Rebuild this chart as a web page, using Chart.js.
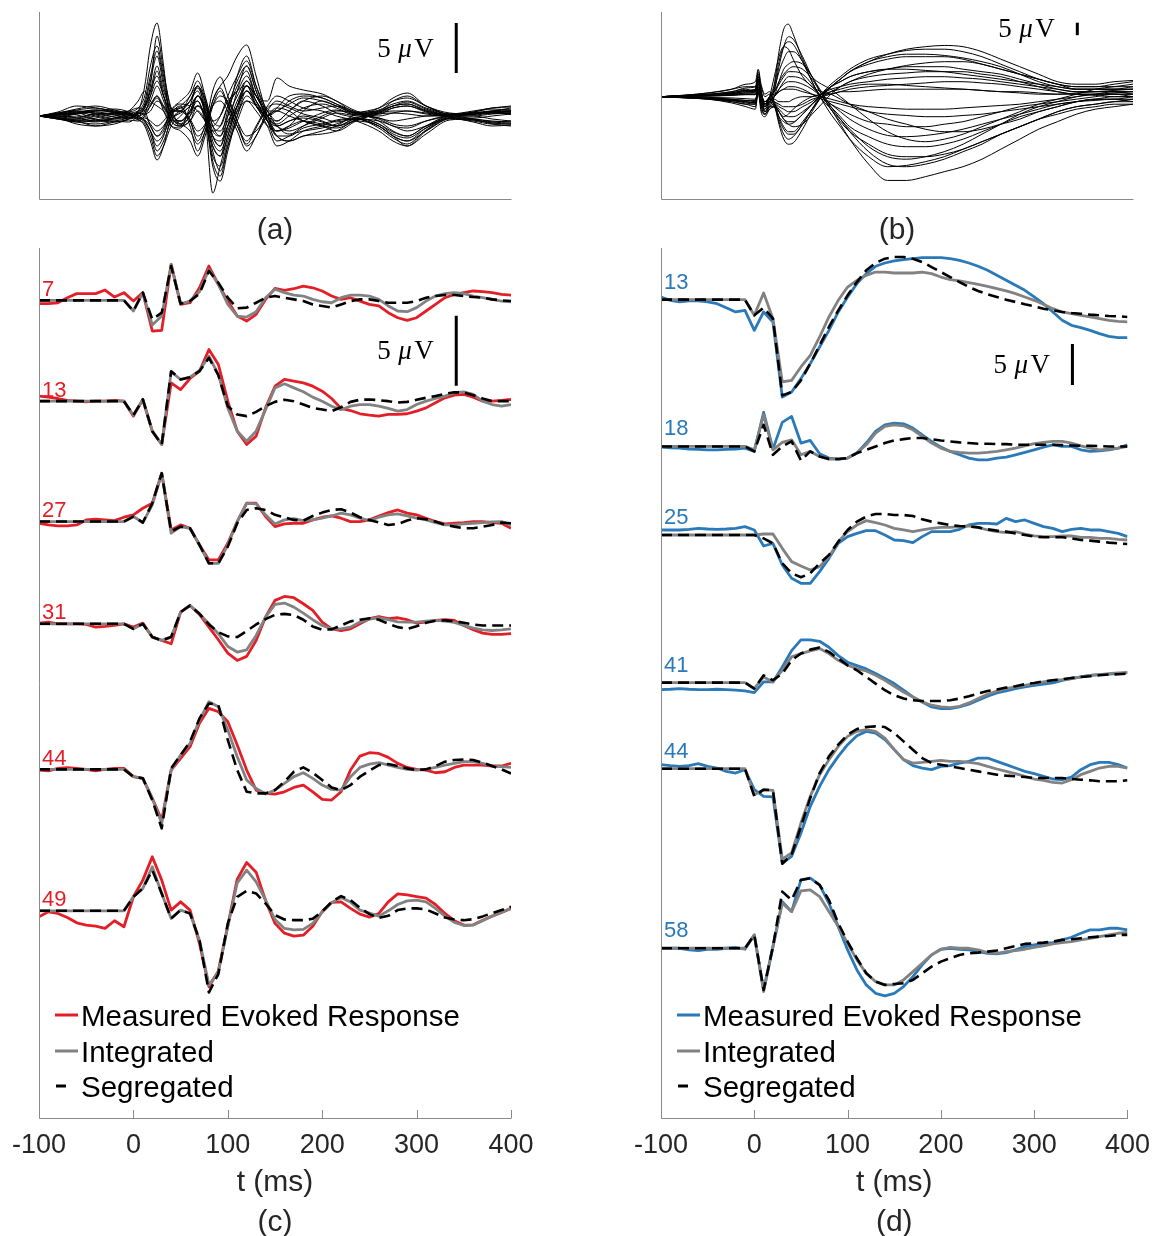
<!DOCTYPE html>
<html>
<head>
<meta charset="utf-8">
<script src="https://cdn.jsdelivr.net/npm/chart.js@4.4.1/dist/chart.umd.min.js"></script>
<style>
  html, body { margin: 0; padding: 0; background: #fff; overflow: hidden; }
  #fig { position: relative; width: 1161px; height: 1236px; }
  canvas { position: absolute; }
</style>
</head>
<body>
<div id="fig">
  <canvas id="panelA" width="560" height="250" style="left:0;top:0"></canvas>
  <canvas id="panelB" width="539" height="250" style="left:622px;top:0"></canvas>
  <canvas id="panelC" width="560" height="996" style="left:0;top:240px"></canvas>
  <canvas id="panelD" width="539" height="996" style="left:622px;top:240px"></canvas>
</div>
<script>
// ---- butterfly plot (a): sample times in ms, one array per channel (uV)
const tA = [-100,-80,-60,-40,-20,-5,5,12,18,25,32,40,50,60,68,76,84,92,100,110,120,130,142,152,165,180,200,215,236,260,275,290,310,335,360,380,400];
const a1 = [0,0.2,0.5,0.3,0.2,0.1,0.5,3,7,9.3,5,-1,-1.2,1,3,1.5,-2,-3,0,4,6,3,0,-1.5,-1,0.5,1.5,1,0.2,0.8,1.8,2.3,1,0.2,0.3,0.5,0.4];
const a2 = [0,-0.3,-0.6,-0.5,-0.2,0,0.3,1,2.5,4,2,0.5,0.5,2,3,0,-7.7,-5,-2,1,3,2,0.5,-0.5,0.5,1.5,1,0.3,-0.2,-1,-2,-2.5,-1.5,-0.2,0,-0.3,-0.5];
const a3 = [0,0.3,0.6,0.8,0.4,0.2,-0.3,-1,-2.5,-4.4,-3,0,1,-1,-3.5,-1.5,1.5,3,4,6,7.1,4,0,-2,-2.5,-2,-1.5,-1,0.2,0.8,1.5,1.8,1,0.2,0.5,0.8,1];
const a4 = [0,-0.2,-0.8,-1,-0.6,-0.3,0.5,1.5,4,6.5,3.5,0,-0.8,0.5,2,0.5,-3,-4,-1,2.5,5,2.5,-0.5,-2.5,-2,-1,0,0.5,0.3,-0.5,-1.5,-2,-1,0,-0.3,-0.8,-1];
const a5 = [0,0.4,1,0.8,0.5,0.2,0,-0.5,-1.5,-3,-2,0.5,1.5,2.5,4.3,2,-1,-2,0.5,3,4.5,2,1.5,3.8,3,2.6,2.2,1.5,0.4,0.5,1.5,2,1,0.3,0.2,0.5,0.6];
const a6 = [0,-0.3,-0.5,-1,-0.8,-0.4,-0.5,0,1,2,0.5,-1,-1.5,-2.5,-4,-2,1,2.5,1,-1,-2.5,-1,1,2,1.5,0.8,0.5,0,-0.5,-1.5,-2.5,-3,-1.5,-0.3,-0.5,-0.8,-0.8];
const a7 = [0,0.1,0.4,0.6,0.3,0,0.2,0.8,2.5,5,2.5,0.8,0.5,1.5,2.5,0,-4.5,-6,-3,0,2,1,-1,-3,-2.5,-1.5,-1,-0.5,-0.3,-0.5,-1,-1.5,-1,-0.2,-0.2,0,0.2];
const a8 = [0,-0.1,-0.2,0.2,0.3,0.5,0.8,0.5,-1,-2,-1.5,0.5,0.5,-0.5,-2,-1,2.5,3.9,2,-0.5,-3,-2,0.5,1.5,1,0.5,0.8,1,0.2,-0.3,-1,-1.2,-0.5,0.1,0.3,0.5,0.8];
const a9 = [0,0.2,0.3,-0.3,-0.5,-0.6,0,0.5,1.5,3,1.5,-0.5,-1,-0.5,0.5,-0.5,-3,-4,-2,1,3.5,2,0,-1,-0.5,0,-0.5,-1,-0.2,0.3,0.5,0.5,0.3,0,0.3,0.4,0.2];
const a10 = [0,-0.2,-0.4,-0.6,-0.2,0.2,0.3,0,-0.8,-1.5,-1,0.3,0.8,1.5,3,1.5,-1,-1.5,0,2,3.5,1.5,-0.5,-2,-2.5,-2,-1.8,-1.5,-0.5,-1,-2,-2.5,-1.2,-0.2,-0.6,-1,-0.9];
const a11 = [0,0.3,0.7,1,0.6,0.3,0.5,1,3,8,4.5,0.5,-0.5,0.5,2,0.5,-2,-3,-1,1.5,3,1.5,0,-0.5,0.5,1.5,2,1.5,0.5,0,0.3,0.5,0.2,0,0,0.2,0.3];
const a12 = [0,-0.2,-0.5,-0.4,0,0.2,0,-0.5,-1.5,-3.5,-2.5,-0.5,0.5,-0.5,-2.5,-1,1,2,1.5,-0.5,-2,-1.5,0,0.5,0,-0.5,-1,-1.2,-0.4,0.5,1,1.2,0.5,0.1,0.4,0.8,0.9];
const a13 = [0,0.1,0.2,0.4,0.2,0.5,1.5,2.5,1.5,1,0.5,-0.5,-0.5,0.5,1,0,-2,-2.5,-1,0.5,1.5,0.5,-1,-1.5,-1,-0.5,-0.8,-1,-0.3,-1,-2,-3,-1.8,-0.4,-0.3,-0.6,-0.7];
const a14 = [0,-0.1,0.2,0.5,0.7,0.4,-0.2,0.2,2,4.5,2,-0.5,-1,0,1,0,-5,-6.5,-3.5,0,2.5,1.5,-0.5,-1.5,-1.2,-0.5,0.3,0.6,0.1,0.6,1.2,1.5,0.8,0.2,0.4,0.7,0.6];
const a15 = [0,0.2,0.4,0,-0.3,-0.2,0.3,0.2,0.5,1.5,1,0,0.3,1,2,1,-1.5,-2,-0.5,1,2.5,1,0,0.5,1.2,1.8,1.5,1,0.3,0.2,0.8,1,0.5,0,0.2,0.4,0.5];
const a16 = [0,-0.2,-0.3,0,0.3,0.1,-0.4,-0.8,-2,-4,-3,-1,0,1,1.5,0,-1,0,2,4,5.5,3,0.5,-1,-1.8,-1.5,-1.2,-0.8,-0.2,-0.8,-1.8,-2.2,-1.2,-0.2,-0.4,-0.7,-0.8];
const a17 = [0,0.1,-0.2,-0.5,-0.3,0,0.4,1.2,3.5,6,3,0.2,-0.5,0.3,1.5,-0.5,-4,-5,-2.5,0.5,3,2,0,-1,-1.5,-1,-0.2,0.3,0,-0.2,-0.8,-1,-0.5,0,0.2,0.3,0.3];
const a18 = [0,-0.1,0.3,0.6,0.4,0.2,-0.2,-0.6,-1.5,-2.5,-1.8,0,1,2,3.5,1.8,-0.5,-1,1,3.5,5,2.5,0,0.8,2,2.2,1.8,1.2,0.3,0.4,1,1.4,0.7,0.1,0.1,0.3,0.4];
const a19 = [0,0.2,0.1,-0.4,-0.6,-0.3,0.2,0.6,1.2,2,1,-0.3,-0.8,-1.5,-2.8,-1.5,1.5,2.8,1.2,-1,-2.8,-1.2,0.8,1.2,0.8,0.2,-0.2,-0.6,-0.3,-1.2,-2.2,-2.8,-1.4,-0.2,-0.4,-0.6,-0.5];
const a20 = [0,-0.2,-0.4,-0.2,0.2,0.4,0.8,2,5,7,4,0.8,-0.8,0,2,0.8,-2.5,-3.5,-1.5,1,2.5,1.2,-0.3,-0.8,0,0.8,1.2,0.8,0.1,0.4,1,1.2,0.6,0.1,0.2,0.3,0.2];
const a21 = [0,0.3,0.5,0.2,-0.1,-0.2,-0.1,-0.4,-1,-2,-1.2,0.5,1.2,1,0.5,-0.5,-1.5,-1,1,2.5,3,1,-0.5,-1,-0.5,-0.2,-0.6,-1,-0.4,0.2,0.3,0.2,0,0,0.2,0.4,0.5];
const a22 = [0,-0.3,-0.6,-0.8,-0.5,-0.2,0.2,0.8,2,3.5,2,0,-1,-0.5,1,0,-3.5,-5.5,-3,-0.5,1.5,1,-0.5,-2,-2,-1.2,-0.8,-0.4,-0.2,-0.8,-1.6,-2,-1,-0.1,-0.3,-0.5,-0.6];
const a23 = [0,0.1,0.3,0.5,0.5,0.3,0,0.3,1,1.8,0.8,-0.2,0.5,1.5,2.8,1.2,-0.5,0,1.5,2.5,4,2,0.5,0.5,1.5,2,1.8,1.2,0.4,-0.2,-0.5,-0.3,0,0.1,0.2,0.4,0.5];
const a24 = [0,0,-0.1,0.2,0.1,-0.2,-0.3,-0.2,-0.5,-1,-0.5,0.5,0.8,-0.3,-1.5,-0.8,1,1.5,0.5,-1.5,-3.5,-2,0,0.8,0.5,-0.5,-1,-1.5,-0.5,0.3,0.8,1,0.4,0,0.2,0.3,0.2];

// ---- butterfly plot (b)
const tB = [-100,-75,-50,-25,-10,0,3,6,10,15,20,25,30,35,40,50,60,70,80,90,100,120,140,160,180,200,220,240,260,280,300,320,340,360,380,400];
const b1 = [0,0.6,1.5,3,4,4,10,3,-4,0,5,18,27,29,25,15,8,5,3,0,-3,-9,-14,-17,-18,-17,-15,-12,-9,-6,-3,-1,1,3,4,5];
const b2 = [0,-0.4,-1,-2,-3,-3,6,-1,-6,-3,2,12,20,24,23,16,8,2,-4,-9,-13,-20,-24,-25,-24,-22,-19,-15,-11,-7,-4,-2,0,1,1,0];
const b3 = [0,0.5,1,2,3,2,9,2,-6,-2,3,10,15,18,18,14,6,-1,-5,-11,-17,-27,-33.5,-33.5,-32,-30,-28,-25,-21,-17,-13,-10,-7,-5,-4,-3];
const b4 = [0,-0.3,-0.8,-1.5,-2,-2.5,4,-3,-7,-4,0,6,11,13,14,13,8,1,-5,-9,-14,-22,-27,-28,-27,-25,-22,-19,-15,-12,-9,-6,-4,-3,-2,-1];
const b5 = [0,0.3,0.6,1.2,2,2,7,1,-3,0,2,5,8,10,10,9,5,0,-4,-8,-12,-16,-19,-20,-20,-19,-17,-14,-11,-8,-6,-4,-2,-1,0,0];
const b6 = [0,-0.2,-0.5,-1,-1.5,-1.5,3,-2,-4,-2,0,3,5,6,6,5,3,0,-3,-5,-7,-10,-11,-12,-12,-11,-10,-8,-6,-4,-3,-2,-1,0,1,1];
const b7 = [0,0.2,0.4,0.8,1,1,4,0,-2,0,1,2,3,3,3,2,1,0,-1,-2,-3,-4,-4.5,-5,-5,-5,-4.5,-4,-3.5,-3,-2,-1,0,1,2,2];
const b8 = [0,-0.1,-0.3,-0.5,-0.8,-1,2,-1,-2,-1,-1,-2,-2,-2,-1,0,0,1,1,2,2,2.5,3,3,3,3,3,2.5,2,2,1.5,1,1,0.5,0,0];
const b9 = [0,0.4,0.8,1.5,2.5,3,8,2,-2,-1,-2,-4,-5,-6,-6,-4,-2,1,3,4,5,6,7,7.5,8,8,7.5,7,6,5,4,3,2,2,2,2];
const b10 = [0,-0.3,-0.7,-1.5,-2.5,-3,1,-4,-7,-5,-4,-6,-9,-10,-10,-7,-3,1,4,6,8,10,11,12,12,12,11,10,9,7,5,3,2,2,2,1];
const b11 = [0,0.5,1,2,3.5,4,6,4,0,1,-2,-8,-12,-14,-14,-10,-5,0,4,7,10,13,15,16,16,16,15,13,11,9,7,5,4,4,5,6];
const b12 = [0,-0.5,-1,-2.5,-4,-5,2,-6,-8,-5,-4,-10,-15,-17,-16,-11,-5,1,5,8,11,15,17,18.5,19,19,18,16,13,10,7,5,3,3,3,4];
const b13 = [0,0.6,1.5,3,5,6,11,5,1,2,-3,-11,-17,-19,-18.5,-13,-6,0,4,7,10,14,17,19,20,20.5,20,18,15,12,9,6,5,5,6,6.5];
const b14 = [0,0.2,0.5,1,1.5,2,5,1,-3,-1,-3,-6,-9,-11,-12,-11,-7,-3,1,4,6,9,11,12.5,13.5,14,14,13,11,9,7,5,4,4,4,4];
const b15 = [0,-0.4,-0.8,-1.5,-2,-2.5,6,-2,-5,0,8,16,20,19,15,8,4,2,1,-1,-3,-6,-9,-11,-13,-14,-14,-13,-11,-9,-6,-4,-2,-1,-1,-2];
const b16 = [0,0.1,0.3,0.6,1,1,3,-1,-4,-2,-3,-6,-8,-7,-5,-2,0,1,2,3,4,5,5,4.5,4,3.5,3,2.5,2,1.5,1,1,1.5,2,2.5,3];
const b17 = [0,0.3,0.7,1.5,2.5,2.5,7,1,-4,-1,4,14,20,22,21,14,6,-1,-7,-12,-17,-24,-28,-27.5,-26,-24,-21,-18,-15,-12,-9,-6,-4,-3,-2,-2];
const b18 = [0,-0.2,-0.5,-1,-1.5,-2,3,-2,-5,-2,0,3,6,8,8,7,4,0,-3,-6,-9,-13,-15.5,-16,-15.5,-14.5,-13,-11,-9,-7,-5,-3,-2,-1,-1,0];
const b19 = [0,0.2,0.4,0.8,1.5,1.5,5,1,-3,-1,-2,-3,-4,-4,-4,-3,-1,0,1,2,3,4,4.5,5,5.5,6,6,5.5,5,4,3,2,1,1,1.5,2];
const b20 = [0,-0.3,-0.6,-1.2,-2,-2.5,2,-3,-6,-4,-3,-5,-7,-8,-8,-6,-3,0,2,4,6,8,9,9.5,10,10,10,9,8,6,4,2,1,1,1,1];
const b21 = [0,0.4,0.8,1.6,2.5,3,8,2,-3,0,2,6,9,11,12,11,7,1,-5,-10,-14,-19,-23,-24,-24,-23,-21,-18,-15,-12,-9,-7,-5,-4,-3,-3];
const b22 = [0,-0.4,-0.9,-2,-3,-4,3,-5,-7,-4,-4,-9,-13,-15,-15,-11,-5,0,4,7,10,14,16,17,17,16.5,15.5,14,12,9,6,4,3,3,3,3];
const b23 = [0,0.1,0.2,0.5,0.8,0.8,3,0,-2,-1,0,2,3,4,4,3,1,-1,-2,-3,-4,-6,-7,-7.5,-8,-8,-7.5,-7,-6,-5,-4,-3,-2,-1.5,-1,-1];
const b24 = [0,0.3,0.6,1.2,2,2.5,7,2,-3,-2,-4,-8,-10,-11,-10.5,-7,-3,1,4,6,8,10,11,11,10.5,10,9,8,7,6,5,4,3,3,3,3];

// ---- single channels (c) and (d): 10 ms samples, uV relative to each channel's baseline
const tC = [-100,-90,-80,-70,-60,-50,-40,-30,-20,-10,0,10,20,30,40,50,60,70,80,90,100,110,120,130,140,150,160,170,180,190,200,210,220,230,240,250,260,270,280,290,300,310,320,330,340,350,360,370,380,390,400];

const c7Meas = [-0.24,-0.24,-0.17,0.19,0.48,0.48,0.48,0.74,0.24,0.55,-0.05,0.55,-2.19,-2.14,2.57,-0.29,-0.17,0.9,2.45,1.14,-0.05,-1.12,-1.48,-1.0,0.07,0.86,0.71,0.83,1.02,0.9,0.67,0.31,0.07,0.19,-0.05,-0.29,-0.4,-0.88,-1.24,-1.43,-1.24,-0.76,-0.29,0.19,0.43,0.55,0.67,0.62,0.55,0.43,0.38];
const c7Int = [0,0,0,0,0,0,0,0,0,0,-0.76,0.55,-1.76,-1.12,2.57,-0.24,-0.05,0.62,2.21,1.14,-0.29,-1.12,-1.19,-0.81,0.19,0.79,0.55,0.38,0.31,0.07,-0.1,-0.17,0.19,0.38,0.38,0.31,0.07,-0.4,-0.76,-0.81,-0.52,-0.05,0.31,0.48,0.55,0.48,0.31,0.19,0.07,-0.05,-0.1];
const c7Seg = [0,0,0,0,0,0,0,0,0,0,-0.76,0.55,-1.36,-0.88,2.45,-0.24,-0.05,0.48,2.1,1.26,0.19,-0.57,-0.52,-0.17,0.19,0.31,0.19,0.07,-0.05,-0.29,-0.4,-0.52,-0.29,-0.05,0.07,0.07,-0.05,-0.17,-0.17,-0.17,-0.05,0.19,0.31,0.38,0.38,0.31,0.24,0.19,0.07,0,-0.05];

const c13Meas = [0.36,0.29,0.19,0.05,0,-0.05,0,0,0.05,0,-1.07,0.12,-2.14,-3.1,1.31,0.83,1.62,2.14,3.69,2.62,0,-2.14,-3.1,-2.5,-0.48,1.07,1.55,1.43,1.31,1.07,0.71,0.19,-0.52,-0.67,-0.9,-1.0,-1.07,-0.95,-0.95,-0.9,-0.71,-0.48,-0.12,0.24,0.43,0.48,0.29,0,0,0.05,0.12];
const c13Int = [0,0,0,0,0,0,0,0,0,0,-1.0,0.12,-2.14,-3.1,2.1,1.55,1.71,2.19,3.21,1.9,-0.48,-2.14,-2.86,-2.14,-0.6,0.95,1.24,0.95,0.67,0.29,0,-0.36,-0.6,-0.36,-0.24,-0.24,-0.36,-0.52,-0.71,-0.6,-0.24,0,0.19,0.36,0.6,0.67,0.48,0,-0.24,-0.36,-0.24];
const c13Seg = [0,0,0,0,0,0,0,0,0,0,-1.0,0.12,-2.14,-3.1,2.14,1.55,1.71,2.14,3.1,1.86,-0.36,-0.95,-1.07,-0.76,-0.36,-0.05,0.1,0,-0.24,-0.48,-0.6,-0.71,-0.43,-0.05,0.1,0.12,0.07,0,-0.1,-0.05,0.1,0.24,0.36,0.52,0.64,0.62,0.43,0.19,0,0,0];

const c27Meas = [-0.12,-0.24,-0.31,-0.31,-0.24,0.12,0.17,0.12,0.07,0.31,0.48,0.95,1.31,3.45,-0.6,-0.24,-0.48,-1.67,-2.74,-2.74,-1.55,0,1.31,1.31,0.36,-0.36,-0.17,-0.12,-0.12,0.12,0.31,0.4,0.24,0,0,0.12,0.4,0.64,0.83,0.6,0.48,0.24,0,-0.17,-0.12,-0.07,0,0,-0.07,-0.12,-0.48];
const c27Int = [0,0,0,0,0,0,0,0,0,0,0.36,-0.07,1.19,3.45,-0.83,-0.36,-0.48,-1.67,-2.98,-2.98,-1.67,0,1.31,1.26,0.48,-0.17,0.12,0.21,0.07,0.12,0.24,0.4,0.6,0.48,0.24,0.07,0.31,0.48,0.55,0.4,0.24,0.12,-0.07,-0.24,-0.24,-0.17,-0.12,-0.07,-0.02,0,-0.24];
const c27Seg = [0,0,0,0,0,0,0,0,0,0,0.36,-0.07,1.31,3.45,-0.71,-0.36,-0.48,-1.67,-2.98,-2.98,-1.79,-0.12,0.83,0.95,0.83,0.48,0.31,0.12,0.07,0.4,0.64,0.83,0.88,0.64,0.31,0.12,-0.07,-0.24,-0.17,0.07,0.24,0.17,0,-0.24,-0.36,-0.48,-0.48,-0.36,-0.24,-0.07,-0.12];

const c31Meas = [0.05,0.12,0,0,0,-0.05,-0.24,-0.19,-0.12,0,-0.24,0.05,-0.95,-1.19,-1.43,0.83,1.31,0.67,-0.24,-1.14,-2.1,-2.62,-2.33,-1.19,0.48,1.67,1.95,1.86,1.43,0.95,0.12,-0.36,-0.48,-0.36,0,0.36,0.52,0.36,0.43,0.29,0.05,0.12,0.24,0.29,0.24,-0.12,-0.43,-0.67,-0.76,-0.76,-0.71];
const c31Int = [0,0,0,0,0,0,0,0,0,0,-0.36,0,-0.95,-1.19,-0.95,0.83,1.31,0.71,0,-0.71,-1.62,-2.02,-1.86,-0.83,0.48,1.38,1.48,1.19,0.76,0.29,-0.12,-0.36,-0.36,-0.24,0.12,0.33,0.43,0.29,0.14,0.12,0.12,0.19,0.24,0.19,0.1,-0.12,-0.31,-0.43,-0.48,-0.43,-0.36];
const c31Seg = [0,0,0,0,0,0,0,0,0,0,-0.36,0,-0.95,-1.19,-0.95,0.83,1.31,0.71,-0.05,-0.6,-0.9,-0.95,-0.52,-0.05,0.33,0.64,0.71,0.62,0.29,-0.19,-0.43,-0.4,-0.12,0.17,0.29,0.4,0.29,0,-0.24,-0.36,-0.17,0.07,0.21,0.24,0.19,0.07,-0.05,-0.12,-0.12,-0.12,-0.12];

const c44Meas = [-0.05,-0.1,0.07,0.12,0.07,0,-0.1,0,0.07,0.07,-0.52,-0.64,-2.07,-3.62,-0.05,0.79,1.62,3.29,4.36,4.12,3.4,1.74,-0.05,-1.48,-1.71,-1.76,-1.6,-1.29,-1.12,-1.6,-2.14,-2.19,-1.6,-0.05,0.95,1.19,1.14,0.86,0.43,0.14,0,-0.05,-0.24,-0.17,0.14,0.31,0.31,0.31,0.24,0.24,0.43];
const c44Int = [0,0,0,0,0,0,0,0,0,0,-0.52,-0.64,-2.07,-3.86,-0.05,1.02,1.86,3.52,4.83,4.48,2.81,0.9,-0.76,-1.36,-1.76,-1.48,-1.0,-0.52,-0.24,-0.64,-1.12,-1.43,-1.48,-0.52,0.14,0.38,0.48,0.31,0.14,0,-0.05,0,0.14,0.31,0.43,0.55,0.55,0.43,0.24,0.19,0.14];
const c44Seg = [0,0,0,0,0,0,0,0,0,0,-0.52,-0.64,-2.19,-4.21,0.07,1.02,1.98,3.64,4.71,4.6,2.1,-0.05,-1.6,-1.71,-1.71,-1.48,-0.88,-0.17,0.14,-0.24,-0.76,-1.29,-1.48,-1.12,-0.52,-0.1,0.31,0.38,0.24,0.07,-0.05,0,0.24,0.55,0.67,0.71,0.67,0.48,0.24,0,-0.29];

const c49Meas = [-0.43,-0.07,-0.19,-0.48,-0.86,-1.02,-1.1,-1.26,-0.71,-1.14,1.0,2.19,3.86,2.19,0.05,0.64,0.05,-2.33,-5.43,-4.29,-1.05,2.26,3.45,2.76,0.74,-0.9,-1.6,-1.81,-1.74,-1.1,-0.05,0.6,0.64,0.17,-0.24,-0.45,-0.19,0.64,1.21,1.14,1.02,0.9,0.45,-0.19,-0.71,-1.02,-1.0,-0.67,-0.38,-0.12,0.17];
const c49Int = [0,0,0,0,0,0,0,0,0,0,1.0,1.6,3.14,1.24,-0.55,0.05,-0.19,-2.1,-5.31,-4.36,-1.14,2.0,2.9,2.07,0.76,-0.62,-1.26,-1.36,-1.33,-0.9,-0.1,0.57,0.95,0.62,0.05,-0.17,-0.38,0,0.45,0.71,0.76,0.64,0.17,-0.38,-0.83,-1.05,-1.02,-0.71,-0.38,-0.1,0.17];
const c49Seg = [0,0,0,0,0,0,0,0,0,0,1.0,1.6,2.9,1.24,-0.55,0.05,-0.19,-2.1,-5.83,-4.52,-0.9,1.0,1.43,1.24,0.52,-0.31,-0.62,-0.67,-0.67,-0.57,-0.05,0.64,1.05,0.76,0.21,-0.24,-0.5,-0.36,0.05,0.17,0.17,0.1,-0.19,-0.48,-0.62,-0.67,-0.6,-0.4,-0.17,0.05,0.29];

const d13Meas = [0.33,-0.08,-0.28,-0.16,-0.16,-0.28,-0.49,-0.98,-1.5,-1.3,-3.74,-1.5,-2.72,-11.87,-11.26,-9.63,-7.8,-5.77,-3.74,-1.5,0.33,1.95,3.17,4.07,4.47,4.72,4.88,5.0,5.12,5.12,5.12,5.0,4.8,4.47,4.07,3.58,2.97,2.36,1.75,1.14,0.33,-0.49,-1.5,-2.52,-3.13,-3.41,-3.74,-4.15,-4.47,-4.63,-4.63];
const d13Int = [0,0,0,0,0,0,0,0,0,0,-1.91,0.81,-2.32,-10.04,-9.84,-8.21,-6.79,-4.55,-2.11,-0.08,1.54,2.36,2.97,3.37,3.37,3.25,3.25,3.25,3.37,3.17,2.76,2.44,2.28,2.07,1.87,1.63,1.34,1.06,0.73,0.33,-0.08,-0.57,-1.1,-1.5,-1.71,-1.91,-2.11,-2.32,-2.52,-2.64,-2.72];
const d13Seg = [0,0,0,0,0,0,0,0,0,0,-1.91,-0.98,-2.32,-11.67,-11.26,-9.84,-7.8,-5.57,-3.33,-1.3,0.53,2.15,3.58,4.47,5.0,5.2,5.2,5.0,4.59,3.98,3.37,2.76,2.15,1.54,1.06,0.65,0.33,0,-0.28,-0.57,-0.81,-1.1,-1.3,-1.5,-1.63,-1.71,-1.83,-1.91,-1.99,-2.03,-2.11];

const d18Meas = [-0.08,-0.16,-0.2,-0.33,-0.37,-0.41,-0.41,-0.37,-0.33,-0.2,-0.61,4.15,-0.33,2.93,3.66,0.41,0.73,-0.89,-1.42,-1.54,-1.42,-0.81,0.41,1.83,2.64,2.85,2.76,2.24,1.42,0.61,-0.08,-0.61,-1.02,-1.42,-1.63,-1.63,-1.42,-1.3,-1.02,-0.73,-0.41,-0.08,0.2,0,0,-0.41,-0.61,-0.53,-0.41,-0.2,0.2];
const d18Int = [0,0,0,0,0,0,0,0,0,0,-0.41,3.86,-0.41,0.49,0.81,-1.02,-0.61,-1.22,-1.54,-1.54,-1.42,-0.81,0.2,1.63,2.44,2.64,2.52,2.03,1.22,0.41,-0.2,-0.61,-0.73,-0.81,-0.81,-0.73,-0.61,-0.41,-0.2,0.08,0.33,0.49,0.61,0.61,0.41,0.08,-0.2,-0.41,-0.33,-0.2,0];
const d18Seg = [0,0,0,0,0,0,0,0,0,0,-0.61,2.64,-1.02,0,0.61,-1.71,-0.61,-1.22,-1.54,-1.54,-1.42,-0.81,-0.41,0,0.41,0.73,0.89,1.02,1.02,0.89,0.73,0.61,0.49,0.41,0.33,0.33,0.28,0.28,0.2,0.2,0.2,0.2,0.2,0.16,0.12,0.08,0.08,0.04,0,0,0];

const d25Meas = [0.61,0.61,0.61,0.69,0.81,0.73,0.69,0.73,0.81,1.02,0.61,-1.34,-1.02,-3.66,-5.28,-5.89,-5.89,-4.47,-2.85,-1.02,-0.2,0.2,0.53,0.53,0,-0.61,-0.69,-0.93,-0.2,0.41,0.41,0.41,0.69,1.22,1.42,1.42,1.34,2.03,1.63,1.83,1.42,1.02,0.81,0.41,0.69,0.81,0.61,0.61,0.41,0.2,-0.2];
const d25Int = [0,0,0,0,0,0,0,0,0,0,0,0.12,0.12,-1.63,-3.25,-3.78,-4.27,-3.86,-2.64,-0.81,0.41,1.22,1.75,1.5,1.22,0.81,0.61,0.41,0.61,0.81,0.93,0.93,1.02,1.1,0.93,0.61,0.41,0.28,0.41,0.12,-0.12,-0.2,-0.2,-0.12,-0.12,-0.28,-0.28,-0.41,-0.41,-0.53,-0.61];
const d25Seg = [0,0,0,0,0,0,0,0,0,0,0,-0.41,-1.02,-3.46,-4.67,-5.16,-4.67,-3.46,-2.44,-0.81,0.61,1.63,2.24,2.56,2.56,2.44,2.44,2.32,1.91,1.63,1.42,1.22,1.1,1.02,0.93,0.69,0.53,0.41,0.2,0,-0.2,-0.28,-0.28,-0.28,-0.41,-0.61,-0.69,-0.81,-0.93,-1.02,-1.1];

const d41Meas = [-0.85,-0.81,-0.73,-0.81,-0.85,-0.85,-0.81,-0.85,-0.93,-1.02,-1.22,0.08,0.08,1.91,3.9,5.2,5.2,5.04,4.31,3.29,2.48,2.07,1.67,1.1,0.49,-0.12,-0.93,-1.75,-2.36,-2.97,-3.17,-3.17,-2.97,-2.64,-2.15,-1.67,-1.26,-1.02,-0.73,-0.53,-0.33,-0.2,-0.04,0.28,0.49,0.69,0.89,0.98,1.02,1.1,1.22];
const d41Int = [0,0,0,0,0,0,0,0,0,0,-0.73,0.69,0.08,1.5,3.13,3.54,3.86,4.15,3.54,2.72,2.11,1.71,1.42,0.89,0.28,-0.45,-1.14,-1.75,-2.36,-2.76,-2.97,-3.05,-2.89,-2.48,-1.95,-1.42,-1.02,-0.73,-0.53,-0.33,-0.12,0.08,0.28,0.37,0.49,0.69,0.89,0.98,1.1,1.18,1.22];
const d41Seg = [0,0,0,0,0,0,0,0,0,0,-0.73,0.89,0.28,1.1,2.72,3.54,4.02,4.27,3.74,2.93,2.11,1.5,0.69,-0.12,-0.93,-1.54,-1.95,-2.15,-2.24,-2.24,-2.24,-2.15,-1.95,-1.67,-1.34,-1.02,-0.85,-0.61,-0.45,-0.2,-0.04,0.16,0.28,0.41,0.57,0.69,0.77,0.89,0.98,1.02,1.1];

const d44Meas = [0.49,0.37,0.28,0.37,0.61,0.28,0.08,-0.33,-0.53,-0.12,-2.56,-3.37,-3.45,-11.5,-10.69,-7.85,-4.59,-2.15,-0.12,1.5,2.93,4.02,4.55,4.35,3.54,2.32,1.1,0.37,0.08,-0.12,0.28,0.37,0.69,0.89,1.3,1.3,0.89,0.49,0.08,-0.33,-0.61,-0.93,-1.26,-1.34,-1.02,-0.12,0.49,0.77,0.77,0.49,0.08];
const d44Int = [0,0,0,0,0,0,0,0,0,0,-3.17,-2.56,-2.64,-11.02,-10.28,-6.63,-3.37,-0.73,1.1,2.72,3.94,4.55,4.76,4.55,3.74,2.32,1.1,0.69,0.77,0.89,1.02,0.89,0.89,0.77,0.61,0.28,-0.04,-0.33,-0.61,-0.93,-1.26,-1.42,-1.67,-1.75,-1.34,-0.73,-0.33,0.08,0.28,0.28,0.08];
const d44Seg = [0,0,0,0,0,0,0,0,0,0,-3.37,-2.56,-2.64,-11.59,-10.49,-7.03,-3.58,-0.53,1.5,2.93,4.15,4.84,5.08,5.16,5.08,4.35,3.33,2.32,1.3,0.69,0.49,0.28,0.08,-0.12,-0.33,-0.53,-0.73,-0.85,-0.93,-1.02,-1.14,-1.14,-1.14,-1.14,-1.26,-1.34,-1.42,-1.54,-1.54,-1.54,-1.42];

const d58Meas = [0,0,0,-0.2,-0.28,-0.12,-0.12,0,0.12,-0.12,1.63,-5.08,0.2,5.69,4.47,8.33,8.54,7.72,5.49,2.64,-0.2,-2.64,-4.47,-5.49,-5.81,-5.49,-4.67,-3.46,-2.03,-0.81,-0.12,0,-0.12,-0.2,-0.41,-0.61,-0.69,-0.53,-0.2,0.2,0.41,0.61,0.69,1.02,1.34,1.83,2.24,2.24,2.44,2.44,2.24];
const d58Int = [0,0,0,0,0,0,0,0,0,0,1.63,-5.28,0.2,5.49,4.47,6.99,7.11,6.3,4.47,2.64,0.61,-1.42,-3.05,-4.07,-4.47,-4.47,-3.86,-2.85,-1.83,-0.81,-0.12,0.12,0,0,-0.2,-0.53,-0.61,-0.41,-0.28,-0.12,0.12,0.28,0.53,0.69,0.81,1.02,1.22,1.42,1.63,1.83,1.95];
const d58Seg = [0,0,0,0,0,0,0,0,0,0,1.63,-5.08,0.2,6.91,5.89,8.33,8.54,7.72,5.89,3.05,0.81,-1.22,-3.05,-4.07,-4.47,-4.35,-4.27,-3.86,-3.05,-2.24,-1.63,-1.22,-0.81,-0.61,-0.53,-0.41,-0.28,0,0.28,0.53,0.61,0.69,0.81,1.02,1.1,1.22,1.34,1.42,1.5,1.63,1.63];

const channelsC = ['7', '13', '27', '31', '44', '49'];
const channelsD = ['13', '18', '25', '41', '44', '58'];
const legendLabels = ['Measured Evoked Response', 'Integrated', 'Segregated'];
const xTicks = [-100, 0, 100, 200, 300, 400];

// ---- layout: vertical offsets of the stacked channels (uV)
const baseC = [58.4, 51.2, 42.6, 35.3, 24.9, 14.8];
const baseD = [99.8, 81.9, 71.1, 53.1, 42.6, 20.7];

const RED = '#e41e26';
const BLUE = '#2a79b8';
const GREY = '#828282';
const SANS = '"Liberation Sans", Arial, sans-serif';
const SERIF = '"Liberation Serif", "Times New Roman", serif';

Chart.defaults.font.family = SANS;

function pts(t, v, off) {
  return t.map((x, i) => ({ x: x, y: v[i] + (off || 0) }));
}

// axis lines, scale bar caption, channel names, legend and panel letter
const panelDecor = {
  id: 'panelDecor',
  afterDatasetsDraw(chart, args, o) {
    const ctx = chart.ctx, a = chart.chartArea;
    const xs = chart.scales.x, ys = chart.scales.y;
    ctx.save();
    ctx.strokeStyle = '#8a8a8a';
    ctx.lineWidth = 1;
    ctx.beginPath();
    ctx.moveTo(a.left + 0.5, a.top);
    ctx.lineTo(a.left + 0.5, a.bottom + 0.5);
    ctx.lineTo(a.right + 0.5, a.bottom + 0.5);
    (o.ticks || []).forEach(v => {
      const px = Math.round(xs.getPixelForValue(v)) + 0.5;
      ctx.moveTo(px, a.bottom);
      ctx.lineTo(px, a.bottom - 8);
    });
    ctx.stroke();

    // "5 uV" next to the bar
    const bx = xs.getPixelForValue(o.bar.t);
    const by = ys.getPixelForValue((o.bar.from + o.bar.to) / 2);
    ctx.fillStyle = '#000';
    ctx.textAlign = 'left';
    ctx.textBaseline = 'alphabetic';
    ctx.font = '27px ' + SERIF;
    ctx.fillText('5', bx - 79, by + 8.5);
    ctx.fillText('V', bx - 42, by + 8.5);
    ctx.font = 'italic 27px ' + SERIF;
    ctx.fillText('\u03bc', bx - 58, by + 8.5);

    if (o.names) {
      ctx.fillStyle = o.nameColor;
      ctx.font = '22px ' + SANS;
      o.names.forEach((n, i) => {
        ctx.fillText(n, a.left + o.nameDx, ys.getPixelForValue(o.bases[i]) - o.nameDy + 8);
      });
    }

    if (o.legend) {
      o.legend.colors.forEach((c, i) => {
        const y = a.bottom + o.legend.rows[i];
        ctx.fillStyle = c;
        if (i === 2) ctx.fillRect(a.left + 17, y - 1.5, 10, 3);
        else ctx.fillRect(a.left + 16, y - 1.5, 23, 3);
        ctx.fillStyle = '#000';
        ctx.font = '29.5px ' + SANS;
        ctx.fillText(legendLabels[i], a.left + 42, y + 10.5);
      });
    }

    ctx.fillStyle = '#262626';
    ctx.textAlign = 'center';
    ctx.font = '30px ' + SANS;
    ctx.fillText(o.letter, (a.left + a.right) / 2, a.bottom + o.letterDy);
    ctx.restore();
  }
};

function barSet(t, from, to) {
  return { data: [{ x: t, y: from }, { x: t, y: to }], borderColor: '#000', borderWidth: 3, order: 0 };
}

function butterfly(id, t, traces, yMin, yMax, bar, pad, letter) {
  const datasets = traces.map(v => ({
    data: pts(t, v), borderColor: '#000', borderWidth: 1, cubicInterpolationMode: 'monotone', order: 1
  }));
  datasets.push(barSet(bar.t, bar.from, bar.to));
  new Chart(document.getElementById(id), {
    type: 'line',
    data: { datasets },
    options: {
      responsive: false, animation: false, devicePixelRatio: 1,
      layout: { padding: pad },
      elements: { point: { radius: 0 } },
      scales: {
        x: { type: 'linear', display: false, min: -100, max: 400 },
        y: { type: 'linear', display: false, min: yMin, max: yMax }
      },
      plugins: {
        legend: { display: false }, tooltip: { enabled: false },
        panelDecor: { bar, letter, letterDy: 40 }
      }
    },
    plugins: [panelDecor]
  });
}

function stacked(id, traces, bases, yMax, colour, names, bar, pad, letter) {
  const datasets = [];
  traces.forEach((tr, i) => {
    datasets.push({ data: pts(tC, tr[0], bases[i]), borderColor: colour, borderWidth: 2.8, order: 3 });
    datasets.push({ data: pts(tC, tr[1], bases[i]), borderColor: GREY, borderWidth: 2.8, order: 2 });
    datasets.push({ data: pts(tC, tr[2], bases[i]), borderColor: '#000', borderWidth: 2.6, borderDash: [11, 6], order: 1 });
  });
  datasets.push(barSet(bar.t, bar.from, bar.to));
  new Chart(document.getElementById(id), {
    type: 'line',
    data: { datasets },
    options: {
      responsive: false, animation: false, devicePixelRatio: 1,
      layout: { padding: pad },
      elements: { point: { radius: 0 }, line: { tension: 0, borderJoinStyle: 'round' } },
      scales: {
        x: {
          type: 'linear', min: -100, max: 400,
          grid: { display: false, drawTicks: false }, border: { display: false },
          afterBuildTicks: s => { s.ticks = xTicks.map(v => ({ value: v })); },
          ticks: { font: { size: 27 }, color: '#262626', padding: 11, maxRotation: 0, autoSkip: false },
          title: { display: true, text: 't (ms)', font: { size: 30 }, color: '#262626', padding: { top: 0, bottom: 9 } },
          afterFit: s => { s.height = 92; }
        },
        y: { type: 'linear', display: false, min: 0, max: yMax }
      },
      plugins: {
        legend: { display: false }, tooltip: { enabled: false },
        panelDecor: {
          bar, letter, letterDy: 113, ticks: xTicks, names, bases,
          nameColor: colour, nameDx: 3, nameDy: id === 'panelC' ? 12.5 : 19,
          legend: { colors: [colour, GREY, '#000'], rows: [-103, -67, -32] }
        }
      }
    },
    plugins: [panelDecor]
  });
}

butterfly('panelA', tA, [a1, a2, a3, a4, a5, a6, a7, a8, a9, a10, a11, a12, a13, a14, a15, a16, a17, a18, a19, a20, a21, a22, a23, a24],
  -8.3, 10.4, { t: 342, from: 4.3, to: 9.3 }, { left: 39, right: 49, top: 12, bottom: 51 }, '(a)');
butterfly('panelB', tB, [b1, b2, b3, b4, b5, b6, b7, b8, b9, b10, b11, b12, b13, b14, b15, b16, b17, b18, b19, b20, b21, b22, b23, b24],
  -40.92, 33.88, { t: 341, from: 24.6, to: 29.6 }, { left: 39, right: 28, top: 12, bottom: 51 }, '(b)');

stacked('panelC', [
  [c7Meas, c7Int, c7Seg], [c13Meas, c13Int, c13Seg], [c27Meas, c27Int, c27Seg],
  [c31Meas, c31Int, c31Seg], [c44Meas, c44Int, c44Seg], [c49Meas, c49Int, c49Seg]
], baseC, 62.14, RED, channelsC, { t: 342, from: 52.3, to: 57.3 },
  { left: 39, right: 49, top: 8, bottom: 26 }, '(c)');

stacked('panelD', [
  [d13Meas, d13Int, d13Seg], [d18Meas, d18Int, d18Seg], [d25Meas, d25Int, d25Seg],
  [d41Meas, d41Int, d41Seg], [d44Meas, d44Int, d44Seg], [d58Meas, d58Int, d58Seg]
], baseD, 106.1, BLUE, channelsD, { t: 341, from: 89.4, to: 94.4 },
  { left: 39, right: 28, top: 8, bottom: 26 }, '(d)');
</script>
</body>
</html>
